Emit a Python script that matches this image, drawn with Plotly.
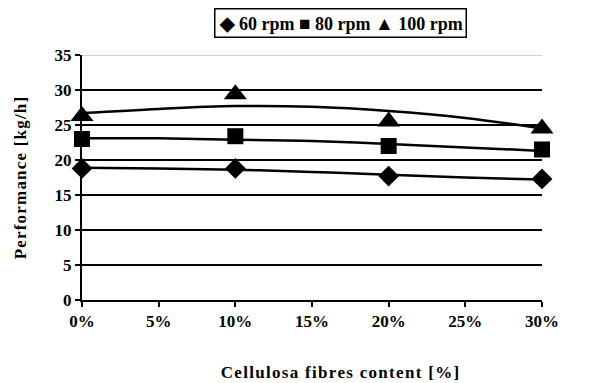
import plotly.graph_objects as go

# data
x_pts = [0.0, 0.10, 0.20, 0.30]
rpm60 = [18.8, 18.8, 17.7, 17.3]
rpm80 = [23.0, 23.4, 22.0, 21.5]
rpm100 = [26.3, 29.4, 25.5, 24.5]

# trend lines
x_trend = [0.0, 0.05, 0.10, 0.15, 0.20, 0.25, 0.30]
trend60 = [18.9, 18.8, 18.6, 18.3, 17.9, 17.5, 17.2]
trend80 = [23.1, 23.1, 22.9, 22.7, 22.3, 21.8, 21.3]
trend100 = [26.7, 27.3, 27.7, 27.6, 27.0, 26.0, 24.5]

series_names = ["60 rpm", "80 rpm", "100 rpm"]
legend_glyphs = ["◆", "■", "▲"]
y_ticks = [0, 5, 10, 15, 20, 25, 30, 35]
x_ticks = [0, 0.05, 0.10, 0.15, 0.20, 0.25, 0.30]

font_family = "Liberation Serif"
bold = dict(family=font_family, size=17, weight="bold", color="black")
fig = go.Figure()

for tr in [trend60, trend80, trend100]:
    fig.add_trace(go.Scatter(x=x_trend, y=tr, mode="lines", line=dict(color="black", width=2.5, shape="spline"),
                             showlegend=False, hoverinfo="skip"))

symbols = ["diamond", "square", "triangle-up"]
sizes = [16, 16, 20]
for name, ys, sym, sz in zip(series_names, [rpm60, rpm80, rpm100], symbols, sizes):
    fig.add_trace(go.Scatter(x=x_pts, y=ys, mode="markers", name=name, showlegend=False,
                             marker=dict(symbol=sym, size=sz, color="black"), cliponaxis=False))

fig.add_shape(type="line", xref="paper", yref="y", x0=0, x1=1, y0=35, y1=35,
              line=dict(color="#c0c0c0", width=1.5), layer="above")

# legend box (Excel style) as a bordered annotation
legend_text = " ".join(
    f"<span style='font-size:19px'>{g}</span> {n}" for g, n in zip(legend_glyphs, series_names)
)
fig.add_annotation(text=legend_text, xref="paper", yref="paper", x=0.563, y=1.192,
                   xanchor="center", yanchor="top", showarrow=False,
                   font=dict(family=font_family, size=18, weight="bold", color="black"),
                   bordercolor="black", borderwidth=1.5, borderpad=3, bgcolor="white")

# x axis title (centred like the reference)
fig.add_annotation(text="Cellulosa fibres content [%]", xref="paper", yref="paper",
                   x=0.563, y=-0.294, xanchor="center", yanchor="middle", showarrow=False,
                   font=bold)

fig.update_layout(
    width=600, height=383,
    margin=dict(l=82, r=58, t=55, b=83, autoexpand=False),
    paper_bgcolor="white", plot_bgcolor="white",
    font=dict(family=font_family, color="black", size=14),
    showlegend=False,
    xaxis=dict(range=[0, 0.30], tickvals=x_ticks, tickformat=".0%", showgrid=False,
               showline=True, linecolor="black", linewidth=2, ticks="outside", ticklen=5,
               tickwidth=2, tickcolor="black", zeroline=False, tickfont=bold),
    yaxis=dict(range=[0, 35], tickvals=y_ticks, showgrid=True, gridcolor="black", gridwidth=1.5,
               showline=True, linecolor="black", linewidth=2, ticks="outside", ticklen=5,
               tickwidth=2, tickcolor="black", zeroline=False, tickfont=bold,
               title=dict(text="Performance [kg/h]", standoff=24, font=bold)),
)

post = """
document.querySelectorAll('.ytitle').forEach(function(e){e.style.letterSpacing='1.2px';});
document.querySelectorAll('.annotation-text').forEach(function(e){
  if (e.textContent.indexOf('Cellulosa') === 0) { e.style.letterSpacing='1.3px'; }
});
"""
fig.write_html("out.html", post_script=post)
